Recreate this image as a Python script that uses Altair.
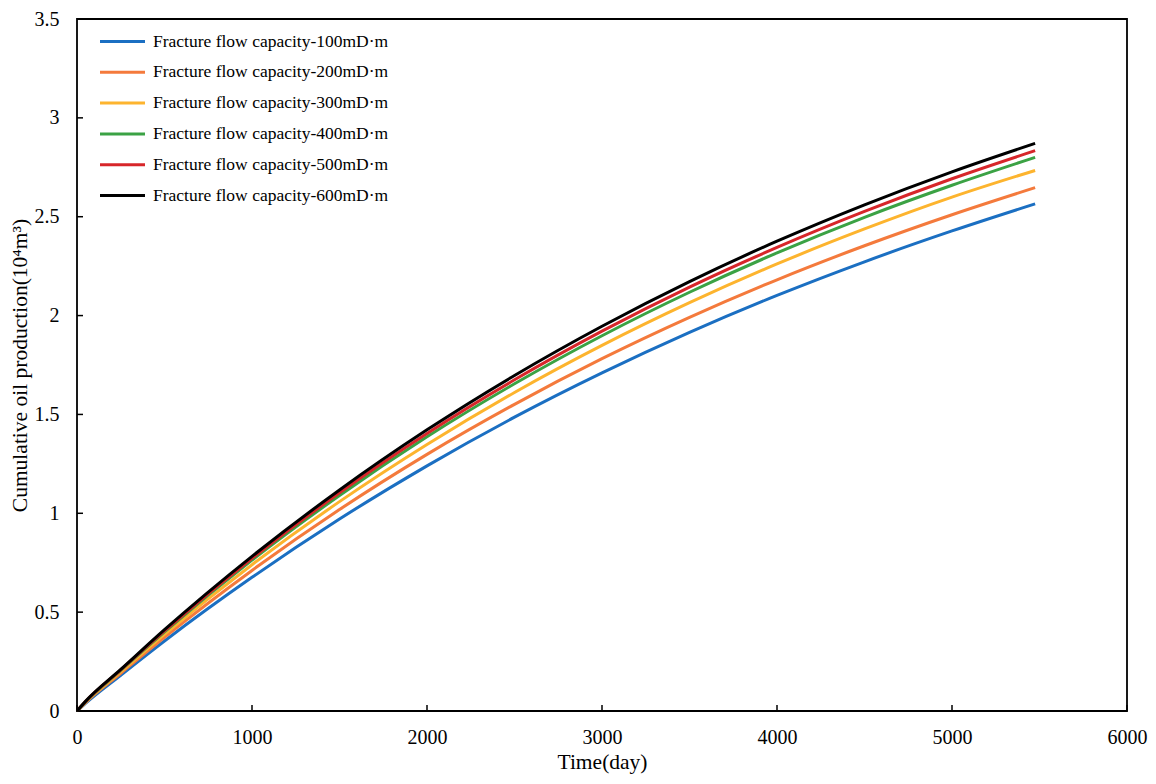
import altair as alt
import pandas as pd

# Time (day)
days = [0, 50, 250, 500, 1000, 1500, 2000, 2500, 3000, 3500, 4000, 4500, 5000, 5475]

# Cumulative oil production (10^4 m^3)
cap100 = [0, 0.040, 0.181, 0.354, 0.676, 0.971, 1.240, 1.486, 1.710, 1.915, 2.102, 2.272, 2.428, 2.565]
cap200 = [0, 0.044, 0.191, 0.373, 0.711, 1.019, 1.298, 1.551, 1.782, 1.991, 2.181, 2.353, 2.510, 2.647]
cap300 = [0, 0.046, 0.199, 0.388, 0.740, 1.059, 1.348, 1.611, 1.849, 2.065, 2.261, 2.438, 2.599, 2.734]
cap400 = [0, 0.048, 0.205, 0.400, 0.763, 1.090, 1.387, 1.655, 1.898, 2.118, 2.317, 2.497, 2.659, 2.800]
cap500 = [0, 0.049, 0.208, 0.405, 0.772, 1.104, 1.404, 1.675, 1.921, 2.144, 2.345, 2.527, 2.692, 2.834]
cap600 = [0, 0.050, 0.210, 0.411, 0.782, 1.118, 1.422, 1.697, 1.946, 2.172, 2.376, 2.560, 2.727, 2.871]

series_names = [
    "Fracture flow capacity-100mD·m",
    "Fracture flow capacity-200mD·m",
    "Fracture flow capacity-300mD·m",
    "Fracture flow capacity-400mD·m",
    "Fracture flow capacity-500mD·m",
    "Fracture flow capacity-600mD·m",
]
series_values = [cap100, cap200, cap300, cap400, cap500, cap600]
colors = ["#1B6FC2", "#F47A3C", "#FDB42E", "#3BA244", "#D7262A", "#000000"]

x_ticks = [0, 1000, 2000, 3000, 4000, 5000, 6000]
y_ticks = [0, 0.5, 1, 1.5, 2, 2.5, 3, 3.5]

rows = []
for i, (name, vals) in enumerate(zip(series_names, series_values)):
    for t, v in zip(days, vals):
        rows.append({"series": name, "order": i, "day": t, "value": v})
df = pd.DataFrame(rows)

W, H = 1050, 692
FONT = "Liberation Serif"

xscale = alt.Scale(domain=[0, 6000], nice=False, zero=True)
yscale = alt.Scale(domain=[0, 3.5], nice=False, zero=True)

xaxis = alt.Axis(title="Time(day)", values=x_ticks, format="d", grid=False, labelFlush=False,
                 ticks=False, domain=False, labelPadding=16, titlePadding=4)
yaxis = alt.Axis(title="Cumulative oil production(10⁴m³)", values=y_ticks, format="~g",
                 grid=False, ticks=False, domain=False, labelPadding=18, titlePadding=3,
                 labelFlush=False)

lines = alt.Chart(df).mark_line(strokeWidth=3, interpolate="monotone").encode(
    x=alt.X("day:Q", scale=xscale, axis=xaxis),
    y=alt.Y("value:Q", scale=yscale, axis=yaxis),
    color=alt.Color("series:N",
                    scale=alt.Scale(domain=series_names, range=colors),
                    legend=alt.Legend(orient="none", legendX=30, legendY=7, title=None,
                                      symbolType="M-1.643,0H1.643", symbolSize=750,
                                      symbolStrokeWidth=3, labelFont=FONT, labelFontSize=17.5,
                                      labelColor="black", labelOffset=15, rowPadding=6.8,
                                      padding=0, labelLimit=400)),
    order=alt.Order("order:Q"),
)

xt = alt.Chart(pd.DataFrame({"day": x_ticks})).mark_rule(color="black", strokeWidth=1.5).encode(
    x=alt.X("day:Q", scale=xscale, axis=xaxis),
    y=alt.value(H), y2=alt.value(H - 6),
)
yt = alt.Chart(pd.DataFrame({"value": y_ticks})).mark_rule(color="black", strokeWidth=1.5).encode(
    y=alt.Y("value:Q", scale=yscale, axis=yaxis),
    x=alt.value(0), x2=alt.value(6),
)

chart = alt.layer(lines, xt, yt).properties(
    width=W, height=H,
    background="white",
    autosize=alt.AutoSizeParams(type="none"),
    padding={"left": 69, "top": 11, "right": 21, "bottom": 73},
).configure_view(
    stroke="black", strokeWidth=1.8
).configure_axis(
    labelFont=FONT, titleFont=FONT, labelFontSize=20, titleFontSize=21.5,
    labelColor="black", titleColor="black", titleFontWeight="normal",
)

chart.save("out.html", embed_options={"renderer": "svg", "actions": False})
